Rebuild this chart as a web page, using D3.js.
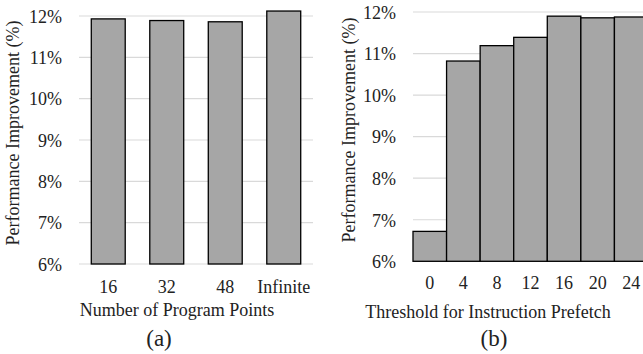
<!DOCTYPE html>
<meta charset="utf-8">
<script src="https://d3js.org/d3.v7.min.js"></script>
<style>
  body { margin: 0; background: #fff; }
  svg text { font-family: "Liberation Serif", "Times New Roman", serif; fill: #222; }
</style>
<div id="my_dataviz"></div>
<script>
  // data
  var pointsCats = ["16", "32", "48", "Infinite"];
  var pointsVals = [11.93, 11.89, 11.86, 12.12];
  var threshCats = ["0", "4", "8", "12", "16", "20", "24"];
  var threshVals = [6.72, 10.82, 11.19, 11.39, 11.90, 11.86, 11.88];
  var yTicks = [6, 7, 8, 9, 10, 11, 12];

  var svg = d3.select("#my_dataviz")
    .append("svg")
    .attr("width", 643)
    .attr("height", 354);

  function drawPanel(opts) {
    var g = svg.append("g");

    var y = d3.scaleLinear()
      .domain([6, 12])
      .range([opts.bottom, opts.top]);

    var x = d3.scaleBand()
      .domain(opts.cats)
      .range([opts.left, opts.right])
      .paddingInner(opts.pad)
      .paddingOuter(opts.pad / 2);

    // gridlines
    g.selectAll(".grid")
      .data(yTicks)
      .enter()
      .append("line")
      .attr("x1", opts.left)
      .attr("x2", opts.right)
      .attr("y1", function (d) { return y(d); })
      .attr("y2", function (d) { return y(d); })
      .attr("stroke", "#d9d9d9")
      .attr("stroke-width", 1.2);

    // y axis labels
    var yAxis = d3.axisLeft(y).tickValues(yTicks).tickSize(0).tickPadding(0)
      .tickFormat(function (d) { return d + "%"; });
    var ya = g.append("g")
      .attr("transform", "translate(" + opts.yLabelX + ",0)")
      .call(yAxis);
    ya.select(".domain").remove();
    ya.selectAll("text").style("font-size", "18px").attr("dy", "0.35em");

    // bars
    g.selectAll(".bar")
      .data(opts.vals)
      .enter()
      .append("rect")
      .attr("x", function (d, i) { return x(opts.cats[i]); })
      .attr("width", x.bandwidth())
      .attr("y", function (d) { return y(d); })
      .attr("height", function (d) { return y(6) - y(d); })
      .attr("fill", "#a6a6a6")
      .attr("stroke", "#000")
      .attr("stroke-width", 1.3);

    // x axis labels
    var xAxis = d3.axisBottom(x).tickSize(0).tickPadding(0);
    var xa = g.append("g")
      .attr("transform", "translate(0," + opts.xLabelY + ")")
      .call(xAxis);
    xa.select(".domain").remove();
    xa.selectAll("text").style("font-size", "18px").attr("dy", "0.35em");

    // axis titles
    g.append("text")
      .attr("x", opts.xTitleX)
      .attr("y", opts.xTitleY)
      .attr("text-anchor", "middle")
      .attr("dy", "0.35em")
      .style("font-size", "18px")
      .text(opts.xTitle);

    g.append("text")
      .attr("transform", "translate(" + opts.yTitleX + "," + opts.yTitleY + ") rotate(-90)")
      .attr("text-anchor", "middle")
      .attr("dy", "0.35em")
      .style("font-size", "18px")
      .text("Performance Improvement (%)");

    g.append("text")
      .attr("x", opts.capX)
      .attr("y", 338)
      .attr("text-anchor", "middle")
      .attr("dy", "0.35em")
      .style("font-size", "23px")
      .text(opts.caption);
  }

  drawPanel({
    cats: pointsCats, vals: pointsVals,
    left: 79, right: 313, top: 16, bottom: 264, pad: 0.42,
    yLabelX: 62, xLabelY: 287,
    xTitle: "Number of Program Points", xTitleX: 177, xTitleY: 310,
    yTitleX: 13, yTitleY: 133,
    caption: "(a)", capX: 159
  });

  drawPanel({
    cats: threshCats, vals: threshVals,
    left: 413, right: 648, top: 12, bottom: 261.3, pad: 0,
    yLabelX: 396, xLabelY: 283,
    xTitle: "Threshold for Instruction Prefetch", xTitleX: 488, xTitleY: 312,
    yTitleX: 349, yTitleY: 130,
    caption: "(b)", capX: 494
  });
</script>
